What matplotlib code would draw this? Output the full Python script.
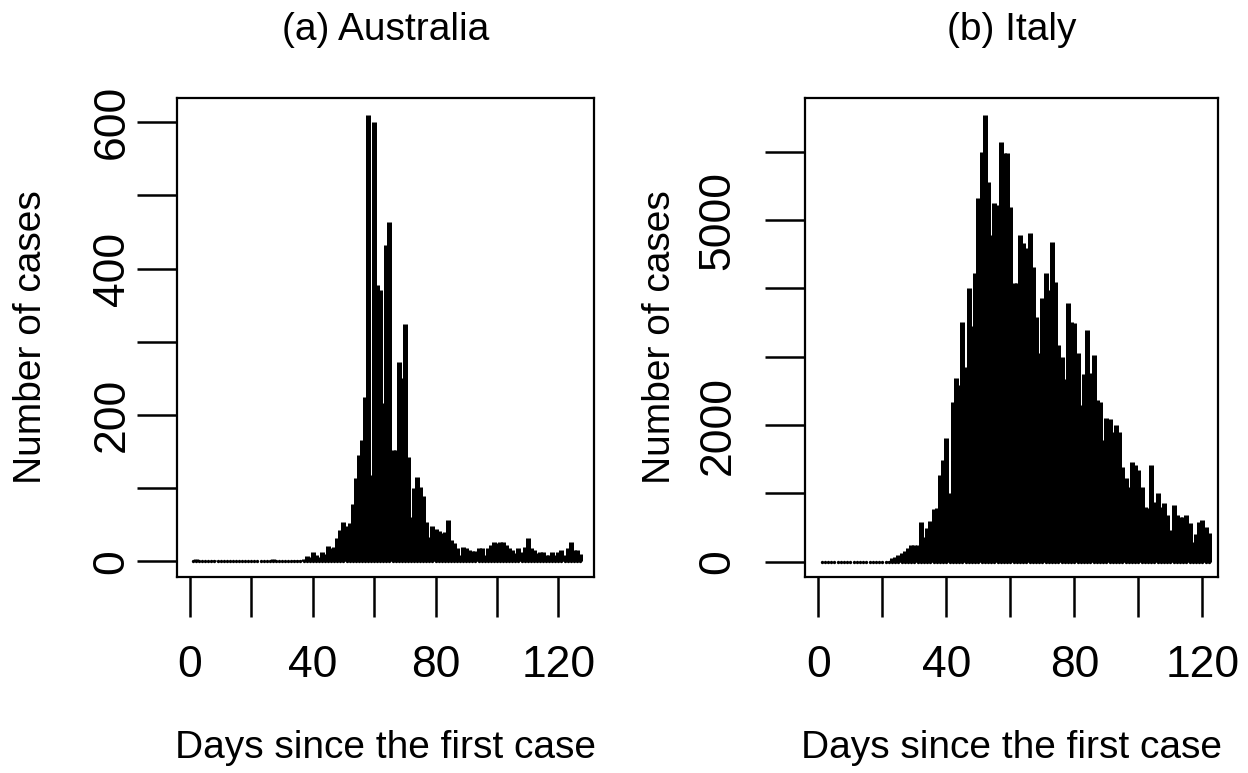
import numpy as np
import matplotlib
matplotlib.use("Agg")
import matplotlib.pyplot as plt

plt.rcParams['font.family'] = ['Liberation Sans', 'DejaVu Sans']

# daily new cases, day 1 = first case
aus_cases = [0, 3, 0, 1, 0, 1, 1, 2, 0, 0, 0, 0, 0, 0, 0, 0, 0, 0, 0, 0,
             0, 0, 0, 0, 0, 0, 3, 1, 0, 0, 1, 0, 1, 2, 1, 2, 3, 7, 6, 13,
             9, 6, 13, 10, 21, 18, 20, 32, 43, 54, 48, 52, 79, 114, 145, 166, 225, 610, 118, 600,
             378, 371, 216, 432, 464, 152, 152, 273, 250, 325, 143, 61, 100, 116, 102, 89, 54, 34, 48, 45,
             41, 39, 40, 56, 29, 25, 18, 9, 20, 18, 16, 14, 14, 18, 18, 9, 18, 22, 26, 25,
             27, 27, 22, 19, 16, 11, 18, 13, 20, 32, 18, 16, 11, 13, 13, 9, 9, 13, 9, 13,
             16, 9, 18, 26, 16, 16, 10]
ita_cases = [2, 0, 0, 0, 0, 0, 0, 1, 0, 0, 0, 0, 0, 0, 0, 0, 0, 0, 0, 0,
             0, 17, 60, 75, 95, 120, 150, 200, 245, 250, 250, 585, 366, 488, 600, 775, 781, 1269, 1488, 1805,
             1000, 2342, 2683, 2585, 3512, 2855, 4000, 3450, 4220, 5318, 6000, 6540, 5560, 4780, 5245, 5220, 6145, 5975, 5975, 5195,
             4075, 4075, 4780, 4660, 4585, 4805, 4320, 3585, 3050, 3855, 4220, 3975, 4685, 4100, 3170, 3000, 2680, 3780, 3510, 3490,
             3050, 2290, 2740, 3390, 2755, 3025, 2365, 2340, 1780, 2100, 2090, 1900, 2000, 1900, 1390, 1220, 1100, 1465, 1415, 1340,
             1100, 805, 780, 1415, 880, 1000, 800, 860, 690, 465, 830, 685, 660, 660, 685, 560, 290, 400, 585, 610,
             510, 415]
aus_days = np.arange(1, len(aus_cases) + 1)
ita_days = np.arange(1, len(ita_cases) + 1)

titles = ["(a) Australia", "(b) Italy"]
xticks = [0, 20, 40, 60, 80, 100, 120]
xticklabels = ["0", "", "40", "", "80", "", "120"]
aus_yticks = [0, 100, 200, 300, 400, 500, 600]
aus_yticklabels = ["0", "", "200", "", "400", "", "600"]
ita_yticks = [0, 1000, 2000, 3000, 4000, 5000, 6000]
ita_yticklabels = ["0", "", "2000", "", "", "5000", ""]

fig = plt.figure(figsize=(12.48, 7.73), dpi=100)
W, H = 1248, 773
ax1 = fig.add_axes([177 / W, 1 - 577 / H, 417 / W, 479 / H])
ax2 = fig.add_axes([805 / W, 1 - 577 / H, 413 / W, 479 / H])

panels = [
    (ax1, aus_days, aus_cases, titles[0], (-4.2, 131.6), (-21.2, 633), aus_yticks, aus_yticklabels, 3),
    (ax2, ita_days, ita_cases, titles[1], (-4.2, 124.9), (-224, 6786), ita_yticks, ita_yticklabels, 19),
]

for ax, days, cases, title, xl, yl, yt, ytl, ypad in panels:
    ax.vlines(days, 0, cases, colors='black', linewidth=3.6, capstyle='butt')
    ax.plot(days, np.zeros(len(days)), linestyle='none', marker='o',
            markersize=2.4, color='black', markeredgewidth=0)
    ax.set_xlim(*xl)
    ax.set_ylim(*yl)
    ax.set_xticks(xticks)
    ax.set_xticklabels(xticklabels)
    ax.set_yticks(yt)
    ax.set_yticklabels(ytl, rotation=90, va='center')
    ax.tick_params(axis='both', direction='out', length=29, width=1.8,
                   labelsize=32, colors='black')
    ax.tick_params(axis='x', pad=20)
    ax.tick_params(axis='y', pad=ypad)
    for sp in ax.spines.values():
        sp.set_linewidth(1.6)
    ax.set_xlabel("Days since the first case", fontsize=28)
    ax.xaxis.set_label_coords(0.5, -0.357)
    ax.xaxis.label.set_va('center')
    ax.set_ylabel("Number of cases", fontsize=28)
    ax.yaxis.set_label_coords(-0.35, 0.5)
    ax.yaxis.label.set_va('center')
    ax.text(0.5, 1.142, title, transform=ax.transAxes, ha='center',
            va='center', fontsize=28)

fig.savefig("out.png", dpi=100)
